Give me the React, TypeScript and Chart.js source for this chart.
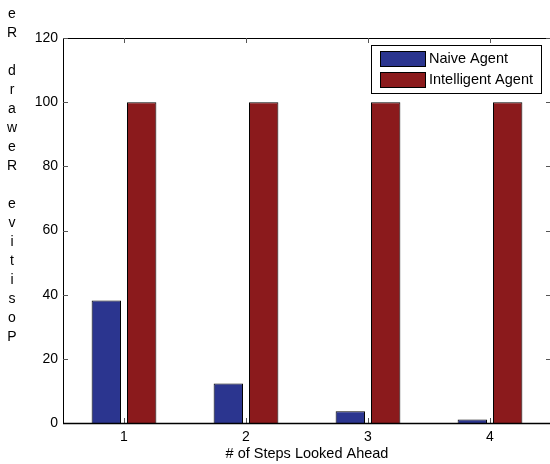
import React, { useEffect, useRef } from "react";
import { Chart, registerables } from "chart.js";

Chart.register(...registerables);

const categories = ["1", "2", "3", "4"];
const naiveValues = [38.2, 12.3, 3.7, 1.1];
const intelligentValues = [100, 100, 100, 100];
const seriesNames = ["Naive Agent", "Intelligent Agent"];
const seriesColors = ["#2b358f", "#8b1a1c"];
const yTicks = [0, 20, 40, 60, 80, 100, 120];
const yLabelLetters = ["e", "R", "", "d", "r", "a", "w", "e", "R", "", "e", "v", "i", "t", "i", "s", "o", "P"];
const xTitle = "# of Steps Looked Ahead";

const FONT = "'Liberation Sans', Arial, Helvetica, sans-serif";

const framePlugin = {
  id: "matlabFrame",
  afterDraw(chart: any) {
    const { ctx, chartArea } = chart;
    const x = chart.scales.x;
    const y = chart.scales.y;
    const L = chartArea.left, R = chartArea.right, T = chartArea.top, B = chartArea.bottom;
    ctx.save();
    // box
    ctx.strokeStyle = "#000";
    ctx.lineWidth = 1;
    ctx.beginPath();
    ctx.moveTo(L + 0.5, T + 0.5);
    ctx.lineTo(R + 0.5, T + 0.5);
    ctx.lineTo(R + 0.5, B + 0.5);
    ctx.lineTo(L + 0.5, B + 0.5);
    ctx.closePath();
    ctx.stroke();
    // ticks inward
    ctx.strokeStyle = "#555";
    ctx.beginPath();
    const tl = 5;
    yTicks.forEach((v) => {
      const py = Math.round(y.getPixelForValue(v)) + 0.5;
      ctx.moveTo(L, py);
      ctx.lineTo(L + tl, py);
      ctx.moveTo(R, py);
      ctx.lineTo(R - tl, py);
    });
    categories.forEach((_, i) => {
      const px = Math.round(x.getPixelForValue(i)) + 0.5;
      ctx.moveTo(px, B);
      ctx.lineTo(px, B - tl);
      ctx.moveTo(px, T);
      ctx.lineTo(px, T + tl);
    });
    ctx.stroke();
    // bottom axis a bit bolder
    ctx.strokeStyle = "#000";
    ctx.lineWidth = 1.5;
    ctx.beginPath();
    ctx.moveTo(L, B + 0.5);
    ctx.lineTo(R, B + 0.5);
    ctx.stroke();

    // y axis label (stacked letters)
    ctx.fillStyle = "#000";
    ctx.font = `14px ${FONT}`;
    ctx.textAlign = "center";
    ctx.textBaseline = "middle";
    yLabelLetters.forEach((ch, i) => {
      if (ch) ctx.fillText(ch, 12, 14 + i * 19);
    });

    // legend
    const lx = 371.5, ly = 45.5, lw = 170, lh = 48;
    ctx.fillStyle = "#fff";
    ctx.fillRect(lx, ly, lw, lh);
    ctx.strokeStyle = "#000";
    ctx.lineWidth = 1;
    ctx.strokeRect(lx, ly, lw, lh);
    ctx.textAlign = "left";
    ctx.font = `14.5px ${FONT}`;
    seriesNames.forEach((name, i) => {
      const sy = 51 + i * 21;
      ctx.fillStyle = seriesColors[i];
      ctx.fillRect(380, sy, 45, 15);
      ctx.strokeStyle = "#000";
      ctx.strokeRect(380.5, sy + 0.5, 45, 15);
      ctx.fillStyle = "#000";
      ctx.fillText(name, 429, sy + 8);
    });
    ctx.restore();
  },
};

export default function App() {
  const ref = useRef<HTMLCanvasElement>(null);
  useEffect(() => {
    document.body.style.margin = "0";
    const chart = new Chart(ref.current as HTMLCanvasElement, {
      type: "bar",
      data: {
        labels: categories,
        datasets: [
          {
            label: seriesNames[0],
            data: naiveValues,
            backgroundColor: seriesColors[0],
            borderColor: "#000",
            borderWidth: 1,
            barPercentage: 0.83,
            categoryPercentage: 0.58,
          },
          {
            label: seriesNames[1],
            data: intelligentValues,
            backgroundColor: seriesColors[1],
            borderColor: "#000",
            borderWidth: 1,
            barPercentage: 0.83,
            categoryPercentage: 0.58,
          },
        ],
      },
      options: {
        responsive: false,
        animation: false,
        devicePixelRatio: 1,
        layout: { padding: { left: 0, top: 38, right: 1, bottom: 0 } },
        plugins: { legend: { display: false }, tooltip: { enabled: false } },
        scales: {
          x: {
            type: "category",
            grid: { display: false, drawTicks: false },
            border: { display: false },
            ticks: { color: "#000", padding: 6, font: { family: FONT, size: 14 }, maxRotation: 0 },
            title: {
              display: true,
              text: xTitle,
              color: "#000",
              font: { family: FONT, size: 14.5 },
              padding: { top: 0, bottom: 1 },
            },
            afterFit: (s: any) => {
              s.height = 41;
            },
          },
          y: {
            min: 0,
            max: 120,
            grid: { display: false, drawTicks: false },
            border: { display: false },
            afterBuildTicks: (s: any) => {
              s.ticks = yTicks.map((v) => ({ value: v }));
            },
            ticks: { color: "#000", padding: 5, font: { family: FONT, size: 14 } },
            afterFit: (s: any) => {
              s.width = 63;
            },
          },
        },
      },
      plugins: [framePlugin],
    });
    return () => chart.destroy();
  }, []);
  return (
    <div style={{ width: 550, height: 464, overflow: "hidden", background: "#fff" }}>
      <canvas ref={ref} width={552} height={464} style={{ display: "block" }} />
    </div>
  );
}
